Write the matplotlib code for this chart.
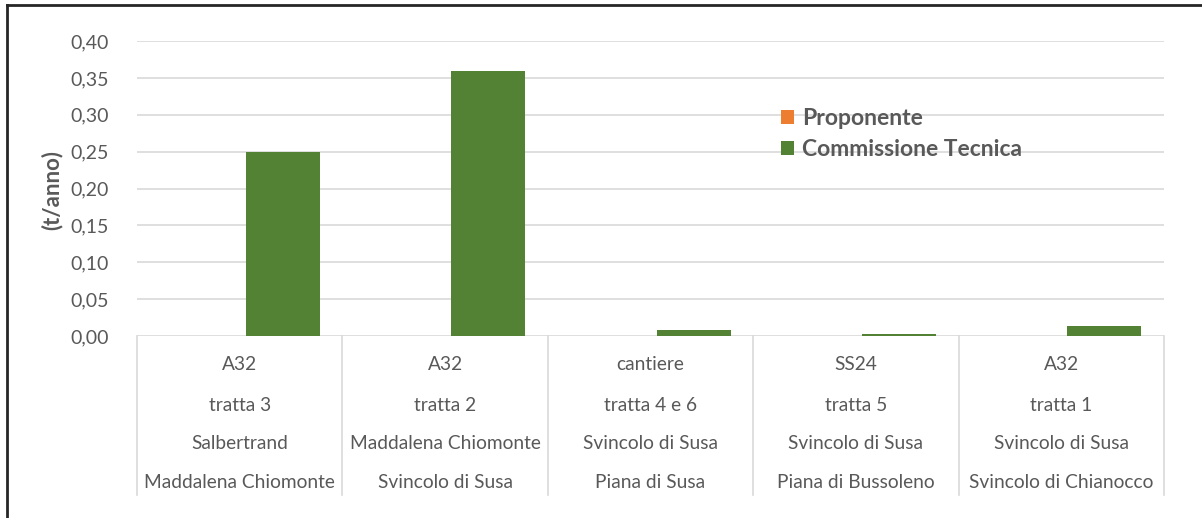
import matplotlib
matplotlib.use("Agg")
import matplotlib.pyplot as plt
from matplotlib.lines import Line2D
import numpy as np

# dati
row1 = ["A32", "A32", "cantiere", "SS24", "A32"]
row2 = ["tratta 3", "tratta 2", "tratta 4 e 6", "tratta 5", "tratta 1"]
row3 = ["Salbertrand", "Maddalena Chiomonte", "Svincolo di Susa", "Svincolo di Susa", "Svincolo di Susa"]
row4 = ["Maddalena Chiomonte", "Svincolo di Susa", "Piana di Susa", "Piana di Bussoleno", "Svincolo di Chianocco"]
proponente = [0.0, 0.0, 0.0, 0.0, 0.0]
commissione = [0.25, 0.36, 0.008, 0.003, 0.013]
series_names = ["Proponente", "Commissione Tecnica"]
yticks = [0.0, 0.05, 0.10, 0.15, 0.20, 0.25, 0.30, 0.35, 0.40]

plt.rcParams['font.family'] = ['Lato', 'DejaVu Sans']
grey = '#595959'

W, H = 1202, 518
fig = plt.figure(figsize=(W / 100, H / 100), dpi=100)
ax = fig.add_axes([137 / W, 1 - 336 / H, (1164 - 137) / W, (336 - 41) / H])

x = np.arange(len(row1))
bw = 0.36
ax.bar(x - 0.17, proponente, bw, color='#ED7D31', label=series_names[0])
ax.bar(x + 0.21, commissione, bw, color='#548235', label=series_names[1])

ax.set_xlim(-0.5, len(row1) - 0.5)
ax.set_ylim(0, 0.40)
ax.set_yticks(yticks)
ax.set_yticklabels([f"{v:.2f}".replace('.', ',') for v in yticks], fontsize=14, color=grey)
ax.tick_params(axis='y', length=0, pad=20)
ax.set_xticks([])
for s in ax.spines.values():
    s.set_visible(False)
ax.yaxis.grid(True, color='#D9D9D9', linewidth=1.2)
ax.set_axisbelow(True)

# etichette categorie multilivello
tr = ax.get_xaxis_transform()
rows_y = [-0.098, -0.234, -0.363, -0.495]
for i in x:
    for row, yy in zip([row1, row2, row3, row4], rows_y):
        ax.text(i, yy, row[i], transform=tr, ha='center', va='center', fontsize=13.8, color=grey)
for b in np.arange(len(row1) + 1) - 0.5:
    ax.plot([b, b], [0, -0.539], transform=tr, color='#D9D9D9', linewidth=1.2, clip_on=False)

fig.text(52 / W, 1 - 190 / H, "(t/anno)", rotation=90, ha='center', va='center',
         fontsize=16, fontweight='bold', color=grey)

leg = ax.legend(loc='upper left', bbox_to_anchor=((781 - 137) / (1164 - 137), (336 - 108) / 295),
                frameon=False, borderpad=0, borderaxespad=0, handlelength=0.57, handleheight=0.57,
                handletextpad=0.35, labelspacing=0.45, fontsize=16.5)
for t in leg.get_texts():
    t.set_color(grey)
    t.set_fontweight('bold')

# cornice
fig.add_artist(Line2D([7 / W, 1], [1 - 5 / H, 1 - 5 / H], color='#262626', linewidth=2))
fig.add_artist(Line2D([7 / W, 7 / W], [0, 1 - 5 / H], color='#262626', linewidth=2))

fig.savefig("out.png", dpi=100)
